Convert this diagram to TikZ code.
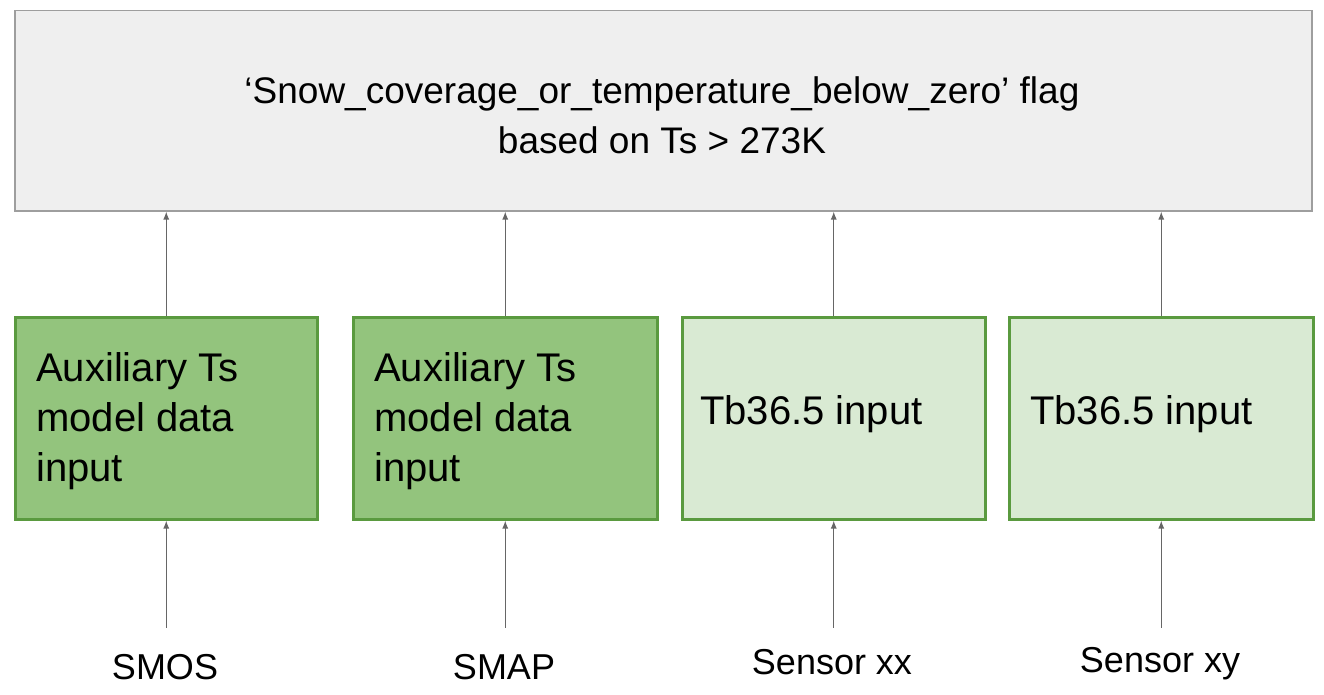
\documentclass[tikz,border=0pt]{standalone}
\usepackage{fontspec}
\usetikzlibrary{arrows.meta}
\setmainfont{Liberation Sans}
\definecolor{topfill}{HTML}{EFEFEF}
\definecolor{topline}{HTML}{9E9E9E}
\definecolor{dkfill}{HTML}{93C47D}
\definecolor{ltfill}{HTML}{D9EAD3}
\definecolor{gline}{HTML}{5A9A3F}
\definecolor{arr}{HTML}{666666}
\begin{document}
\begin{tikzpicture}[x=1pt,y=-1pt,
  gbox/.style={draw=gline,line width=2.5pt,minimum width=300pt,minimum height=200pt,anchor=north west,inner sep=0pt},
  gtext/.style={font=\fontsize{40}{50}\selectfont,align=left,anchor=north west,inner sep=0pt},
  lab/.style={font=\fontsize{36}{44}\selectfont,inner sep=0pt},
  conn/.style={draw=arr,line width=1.2pt,-{Latex[length=8pt,width=6pt]}}]
\useasboundingbox (0,0) rectangle (1324,695);
\node[draw=topline,fill=topfill,line width=1.5pt,minimum width=1297pt,minimum height=200pt,anchor=north west,inner sep=0pt] (top) at (14,10) {};
\node[font=\fontsize{37}{50}\selectfont,align=center] (tt) at (662,115) {‘Snow\_coverage\_or\_temperature\_below\_zero’ flag\\based on Ts > 273K};
\node[gbox,fill=dkfill,minimum width=302pt,minimum height=202pt] (b1) at (14,316) {};
\node[gbox,fill=dkfill,minimum width=304pt,minimum height=202pt] (b2) at (352,316) {};
\node[gbox,fill=ltfill,minimum width=303pt,minimum height=202pt] (b3) at (681,316) {};
\node[gbox,fill=ltfill,minimum width=304pt,minimum height=202pt] (b4) at (1008,316) {};
\node[gtext] (t1) at (36,352) {Auxiliary Ts\\model data\\input};
\node[gtext] (t2) at (374,352) {Auxiliary Ts\\model data\\input};
\node[gtext] (t3) at (700,395) {Tb36.5 input};
\node[gtext] (t4) at (1030,395) {Tb36.5 input};
\node[lab] (s1) at (165,667) {SMOS};
\node[lab] (s2) at (504,667) {SMAP};
\node[lab] (s3) at (832,662) {Sensor xx};
\node[lab] (s4) at (1160,664) {Sensor xy};
\foreach \b in {b1,b2,b3,b4}{
  \draw[conn] (\b.north) -- (top.south -| \b.north);
}
\foreach \s/\b in {s1/b1,s2/b2,s3/b3,s4/b4}{
  \path (\b.south) ++(0,107) coordinate (c\s);
  \draw[conn] (c\s) -- (\b.south);
}
\end{tikzpicture}
\end{document}
